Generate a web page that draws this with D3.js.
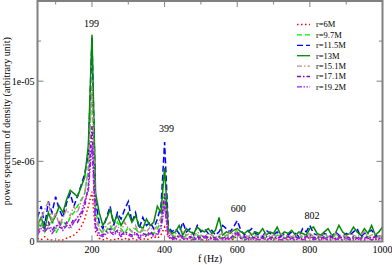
<!DOCTYPE html>
<html>
<head>
<meta charset="utf-8">
<script src="https://cdn.jsdelivr.net/npm/d3@7"></script>
<style>
body { margin:0; background:#fff; }
text { font-family:"Liberation Serif","DejaVu Serif",serif; fill:#000; }
</style>
</head>
<body>
<svg id="chart" width="392" height="265"></svg>
<script>
// ***************** DATA ********************
// frequencies 50..1000 Hz, step 10; values in units of 1e-7
var freqStart = 50, freqStep = 10;
var seriesNames = ["r=6M","r=9.7M","r=11.5M","r=13M","r=15.1M","r=17.1M","r=19.2M"];

var r6 = [2,1,3,1,1,0,1,1,2,3, 4,6,9,14,22,31,6,2,1,2, 1,1,2,1,2,1,2,1,1,2,
  1,2,3,2,4,9,3,1,2,1, 1,2,1,1,2,1,1,1,2,1, 1,2,1,2,1,4,2,1,1,2,
  1,1,2,1,1,2,1,1,1,2, 1,1,2,1,1,3,2,1,1,2, 1,1,2,1,1,2,1,1,2,1, 1,2,1,1,2,1];
var r9_7 = [8,12,6,10,14,5,9,13,10,15, 18,22,26,30,45,98,20,8,5,7, 10,6,12,8,5,9,6,8,5,7,
  4,6,5,8,12,30,8,4,3,5, 2,4,3,2,4,3,2,3,4,2, 3,2,4,3,2,6,3,2,3,2,
  4,2,3,2,3,2,4,3,2,3, 2,3,2,4,3,5,3,2,3,2, 3,2,4,2,3,2,3,2,3,2, 4,3,2,3,2,3];
var r11_5 = [15,22,10,25,18,28,20,15,24,30, 22,28,35,42,55,127,25,12,8,15, 22,10,18,14,20,25,12,18,8,15,
  10,12,8,14,22,62,10,6,8,5, 12,6,8,4,10,6,8,5,7,4, 6,10,8,6,9,13,7,4,6,8,
  5,4,3,7,5,4,6,3,5,4, 6,5,3,8,6,10,5,4,3,5, 4,3,6,4,3,5,4,6,8,3, 5,6,7,4,3,5];
var r13 = [10,15,8,18,12,16,22,18,26,32, 30,28,34,40,60,129,30,18,10,14, 20,12,16,10,14,18,12,16,10,8,
  14,10,12,22,18,46,8,5,6,10, 4,8,6,5,9,7,6,8,5,7, 15,4,6,5,7,8,6,5,7,4,
  6,5,8,4,6,5,9,4,6,5, 7,4,6,5,4,8,9,5,4,6, 8,4,5,10,6,4,5,9,6,4, 8,5,10,4,6,9];
var r15_1 = [10,14,20,25,12,18,10,15,20,16, 22,18,25,30,45,97,15,8,6,10, 12,8,10,6,12,8,6,10,5,8,
  6,9,7,10,15,25,6,4,5,3, 6,4,5,3,6,4,3,5,4,3, 4,5,3,6,4,8,3,4,3,5,
  3,4,3,5,3,4,3,5,3,4, 3,4,5,3,4,5,3,4,3,5, 3,4,5,3,4,3,5,4,3,4, 6,3,4,5,3,4];
var r17_1 = [6,10,8,12,7,10,9,8,12,10, 14,12,16,22,35,72,10,5,4,6, 8,5,7,4,6,5,4,6,3,5,
  4,6,4,5,10,30,4,3,2,4, 3,2,3,2,3,2,4,2,3,2, 3,2,3,2,4,6,2,3,2,3,
  2,3,2,3,2,3,2,3,2,3, 2,3,2,2,3,4,2,3,2,3, 2,3,2,3,2,3,2,3,2,3, 2,3,2,3,2,3];
var r19_2 = [4,8,6,9,5,8,12,7,10,8, 12,15,18,25,32,60,8,4,3,5, 6,4,6,3,5,4,3,5,2,4,
  3,5,3,4,8,22,3,2,1,3, 2,1,2,1,2,1,3,1,2,1, 2,1,2,1,3,5,2,1,2,1,
  2,1,2,1,2,1,2,1,2,1, 2,1,2,1,2,3,1,2,1,2, 1,2,1,2,1,2,1,2,1,2, 1,2,1,2,1,2];

var peakLabels = ["199","399","600","802"];
var peakFreqs = [199, 405, 603, 806];
var peakVals = [1.34e-5, 6.8e-6, 1.85e-6, 1.4e-6];

var xTicks = [200,400,600,800,1000];
var yTicks = [0,5e-6,1e-5];
var yTickLabels = ["0","5e-06","1e-05"];

// ***************** STYLE ********************
var colors = ["#ff0000","#00ee00","#0000ff","#008b00","#bc8f8f","#9400d3","#a020f0"];
var dashes = ["1.5,2.5","5,3","6,3",null,"5,2,1.5,2","4,2,1.5,2","5,1.5,1.5,1.5,1.5,1.5"];

var svg = d3.select("#chart");
var margin = {left:37.5, right:9.5, top:1, bottom:23.5};
var W = 392, H = 265;

var x = d3.scaleLinear().domain([50,1000]).range([margin.left, W-margin.right]);
var y = d3.scaleLinear().domain([0,1.5e-5]).range([H-margin.bottom, margin.top]);

var allSeries = [r6,r9_7,r11_5,r13,r15_1,r17_1,r19_2].map(function(arr,i){
	return {
		name:seriesNames[i],
		color:colors[i],
		dash:dashes[i],
		values:arr.map(function(v,j){ return {f:freqStart+j*freqStep, v:v*1e-7}; })
	};
});

svg.append("clipPath").attr("id","clip")
	.append("rect")
	.attr("x",margin.left).attr("y",margin.top)
	.attr("width",W-margin.left-margin.right)
	.attr("height",H-margin.top-margin.bottom);

var line = d3.line()
	.x(function(d){ return x(d.f); })
	.y(function(d){ return y(d.v); });

svg.append("g").attr("clip-path","url(#clip)")
	.selectAll("path")
	.data(allSeries)
	.enter()
	.append("path")
	.attr("d",function(d){ return line(d.values); })
	.attr("fill","none")
	.attr("stroke",function(d){ return d.color; })
	.attr("stroke-width",1.5)
	.attr("stroke-dasharray",function(d){ return d.dash; });

// ***************** AXES (mirrored, inward ticks) ********************
var axisColor = "#808080";
var gx = svg.append("g");
var xMinor = d3.range(100,1000,200);
var yMinor = [2.5e-6,7.5e-6,1.25e-5];

function tickLines(vals, len, horizontal){
	vals.forEach(function(v){
		if (horizontal){
			gx.append("line").attr("x1",x(v)).attr("x2",x(v))
				.attr("y1",y.range()[0]).attr("y2",y.range()[0]-len)
				.attr("stroke",axisColor).attr("stroke-width",1);
			gx.append("line").attr("x1",x(v)).attr("x2",x(v))
				.attr("y1",y.range()[1]).attr("y2",y.range()[1]+len)
				.attr("stroke",axisColor).attr("stroke-width",1);
		} else {
			gx.append("line").attr("y1",y(v)).attr("y2",y(v))
				.attr("x1",x.range()[0]).attr("x2",x.range()[0]+len)
				.attr("stroke",axisColor).attr("stroke-width",1);
			gx.append("line").attr("y1",y(v)).attr("y2",y(v))
				.attr("x1",x.range()[1]).attr("x2",x.range()[1]-len)
				.attr("stroke",axisColor).attr("stroke-width",1);
		}
	});
}
tickLines(xTicks,6,true);
tickLines(xMinor,3.5,true);
tickLines(yTicks.slice(1),6,false);
tickLines(yMinor,3.5,false);

gx.append("rect")
	.attr("x",x.range()[0]).attr("y",y.range()[1])
	.attr("width",x.range()[1]-x.range()[0])
	.attr("height",y.range()[0]-y.range()[1])
	.attr("fill","none").attr("stroke",axisColor).attr("stroke-width",2);

svg.selectAll("text.xtick")
	.data(xTicks).enter().append("text")
	.attr("class","xtick")
	.attr("x",function(d){ return x(d); })
	.attr("y",y.range()[0]+11)
	.attr("text-anchor","middle")
	.attr("font-size",10)
	.text(function(d){ return d; });

svg.selectAll("text.ytick")
	.data(yTicks).enter().append("text")
	.attr("class","ytick")
	.attr("x",x.range()[0]-3)
	.attr("y",function(d){ return y(d); })
	.attr("dy","0.35em")
	.attr("text-anchor","end")
	.attr("font-size",10)
	.text(function(d,i){ return yTickLabels[i]; });

svg.append("text")
	.attr("x",(x.range()[0]+x.range()[1])/2)
	.attr("y",H-3)
	.attr("text-anchor","middle")
	.attr("font-size",10)
	.text("f (Hz)");

svg.append("text")
	.attr("transform","translate(10,"+((y.range()[0]+y.range()[1])/2)+") rotate(-90)")
	.attr("text-anchor","middle")
	.attr("font-size",10)
	.text("power spectrum of density (arbitrary unit)");

// ***************** PEAK LABELS ********************
svg.selectAll("text.peak")
	.data(peakLabels).enter().append("text")
	.attr("class","peak")
	.attr("x",function(d,i){ return x(peakFreqs[i]); })
	.attr("y",function(d,i){ return y(peakVals[i]); })
	.attr("text-anchor","middle")
	.attr("font-size",10)
	.text(function(d){ return d; });

// ***************** LEGEND ********************
var legend = svg.append("g").attr("transform","translate(297,24.5)");
var rows = legend.selectAll("g")
	.data(allSeries).enter().append("g")
	.attr("transform",function(d,i){ return "translate(0,"+(i*10.4)+")"; });
rows.append("line")
	.attr("x1",0).attr("x2",13).attr("y1",0).attr("y2",0)
	.attr("stroke",function(d){ return d.color; })
	.attr("stroke-width",1.3)
	.attr("stroke-dasharray",function(d){ return d.dash; });
rows.append("text")
	.attr("x",19).attr("y",0).attr("dy","0.33em")
	.attr("font-size",8.5)
	.text(function(d){ return d.name; });
</script>
</body>
</html>
